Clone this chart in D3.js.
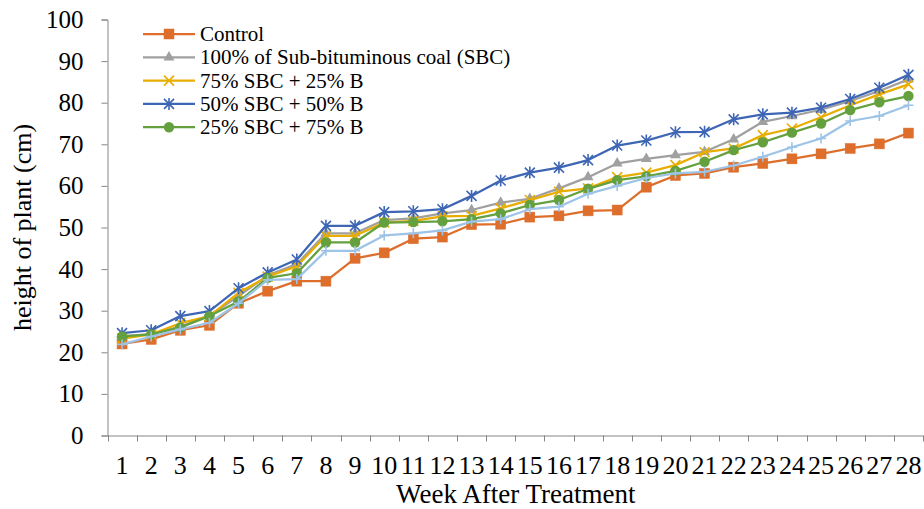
<!DOCTYPE html>
<html>
<head>
<meta charset="utf-8">
<script src="https://cdn.jsdelivr.net/npm/d3@7"></script>
<style>
  html, body { margin: 0; padding: 0; background: #fff; }
  svg { display: block; }
</style>
</head>
<body>
<svg id="chart" width="924" height="509"></svg>
<script>
// ---- Data ----
const weeks = ["1","2","3","4","5","6","7","8","9","10","11","12","13","14","15","16","17","18","19","20","21","22","23","24","25","26","27","28"];
const yTicks = [0,10,20,30,40,50,60,70,80,90,100];

const control   = [22.0,23.1,25.3,26.5,31.8,34.7,37.1,37.1,42.6,43.9,47.3,47.7,50.7,50.8,52.5,52.8,54.0,54.2,59.7,62.5,63.0,64.5,65.4,66.5,67.7,69.0,70.1,72.7];
const sbc100    = [23.8,24.4,26.2,28.8,33.5,38.5,41.2,48.6,48.6,51.8,52.2,53.4,54.2,56.0,56.9,59.4,62.1,65.4,66.5,67.4,68.2,71.2,75.4,76.8,78.3,80.4,82.8,85.6];
const sbc75b25  = [23.3,24.3,27.0,28.7,34.3,38.2,40.7,48.0,48.0,51.2,51.6,52.7,52.8,54.6,56.6,58.6,59.4,62.1,63.2,65.0,68.1,69.0,72.2,73.8,76.5,79.4,82.0,84.4];
const sbc50b50  = [24.6,25.3,28.7,29.9,35.4,39.2,42.3,50.4,50.4,53.7,53.9,54.4,57.6,61.3,63.2,64.4,66.2,69.7,70.9,72.9,73.0,76.0,77.2,77.6,78.8,80.9,83.6,86.7];
const sbc25b75  = [23.8,24.3,26.0,28.7,32.2,37.9,39.0,46.4,46.4,51.2,51.3,51.5,52.0,53.4,55.4,56.6,59.3,61.4,62.3,63.6,65.8,68.6,70.5,72.8,75.0,78.2,80.1,81.6];
const sixth     = [21.9,23.8,25.5,27.1,31.8,37.4,37.6,44.4,44.4,48.1,48.6,49.3,51.4,52.0,54.4,55.0,58.1,60.0,61.9,63.0,63.4,64.9,67.0,69.3,71.4,75.6,76.8,79.4];

const seriesNames = ["Control","100% of Sub-bituminous coal (SBC)","75% SBC + 25% B","50% SBC + 50% B","25% SBC + 75% B",""];
const seriesValues = [control, sbc100, sbc75b25, sbc50b50, sbc25b75, sixth];
const seriesColors = ["#DD6E2C","#A0A0A0","#E8AD00","#3E66B5","#64A03E","#9DC3E6"];
const seriesMarkers = ["square","triangle","x","asterisk","circle","plus"];
const legendCount = 5;

const FONT = "Liberation Serif";

// ---- Layout ----
const svg = d3.select("#chart");
const mLeft = 107.5, mRight = 923, mTop = 19.5, mBottom = 435.5;

const x = d3.scaleBand().domain(weeks).range([mLeft, mRight]).padding(0);
const y = d3.scaleLinear().domain([0,100]).range([mBottom, mTop]);
const cx = d => x(d) + x.bandwidth()/2;

const axisColor = "#868686";

// Y axis
const yAxis = d3.axisLeft(y).tickValues(yTicks).tickSize(6).tickPadding(18);
const gy = svg.append("g").attr("transform", `translate(${mLeft},0)`).call(yAxis);
gy.select(".domain").attr("stroke", axisColor).attr("stroke-width", 1);
gy.selectAll(".tick line").attr("stroke", axisColor);
gy.selectAll(".tick text").style("font-size", "25px").style("font-family", FONT).attr("fill", "#000");

// X axis: labels at band centres, ticks at band edges (category boundaries)
const xAxis = d3.axisBottom(x).tickSize(0).tickPadding(20);
const gx = svg.append("g").attr("transform", `translate(0,${mBottom})`).call(xAxis);
gx.select(".domain").attr("stroke", axisColor).attr("stroke-width", 1);
gx.selectAll(".tick text").style("font-size", "26px").style("font-family", FONT).attr("fill", "#000");
const edges = weeks.map(w => x(w)).concat([x(weeks[weeks.length-1]) + x.bandwidth()]);
gx.selectAll("line.edge").data(edges).enter().append("line")
  .attr("class","edge")
  .attr("x1", d => Math.round(d)+0.5).attr("x2", d => Math.round(d)+0.5)
  .attr("y1", 0).attr("y2", 6)
  .attr("stroke", axisColor);

// Axis titles
svg.append("text")
  .attr("x", (mLeft+mRight)/2 + 0.5).attr("y", 503)
  .attr("text-anchor","middle")
  .style("font-size", "27px").style("font-family", FONT).attr("fill","#000")
  .text("Week After Treatment");
svg.append("text")
  .attr("transform", `translate(31,${(mTop+mBottom)/2}) rotate(-90)`)
  .attr("text-anchor","middle")
  .style("font-size", "26px").style("font-family", FONT).attr("fill","#000")
  .text("height of plant (cm)");

// Marker drawing
function drawMarker(g, type, color, px, py) {
  const s = 5;
  if (type === "square") {
    g.append("rect").attr("x", px-5).attr("y", py-5).attr("width",10).attr("height",10)
      .attr("fill", color).attr("stroke", color).attr("stroke-width",0.5);
  } else if (type === "triangle") {
    g.append("path").attr("d", d3.symbol().type(d3.symbolTriangle).size(52)())
      .attr("transform", `translate(${px},${py})`).attr("fill", color);
  } else if (type === "circle") {
    g.append("circle").attr("cx", px).attr("cy", py).attr("r", 5.2).attr("fill", color);
  } else if (type === "x") {
    g.append("path").attr("d", `M${px-s},${py-s}L${px+s},${py+s}M${px-s},${py+s}L${px+s},${py-s}`)
      .attr("stroke", color).attr("stroke-width", 1.6).attr("fill","none");
  } else if (type === "asterisk") {
    g.append("path").attr("d", `M${px-s},${py-s}L${px+s},${py+s}M${px-s},${py+s}L${px+s},${py-s}M${px},${py-s-1}L${px},${py+s+1}`)
      .attr("stroke", color).attr("stroke-width", 1.6).attr("fill","none");
  } else if (type === "plus") {
    g.append("path").attr("d", `M${px-s},${py}L${px+s},${py}M${px},${py-s}L${px},${py+s}`)
      .attr("stroke", color).attr("stroke-width", 1.6).attr("fill","none");
  }
}

const line = d3.line().x((d,i) => cx(weeks[i])).y(d => y(d));

seriesValues.forEach((vals, si) => {
  const g = svg.append("g");
  g.append("path").datum(vals).attr("d", line)
    .attr("fill","none").attr("stroke", seriesColors[si]).attr("stroke-width", 2.25)
    .attr("stroke-linejoin","round");
  vals.forEach((v,i) => drawMarker(g, seriesMarkers[si], seriesColors[si], cx(weeks[i]), y(v)));
});

// Legend
const legY0 = 34, legDy = 23.3;
for (let i = 0; i < legendCount; i++) {
  const g = svg.append("g");
  const ly = legY0 + i*legDy;
  g.append("line").attr("x1",143).attr("x2",195).attr("y1",ly).attr("y2",ly)
    .attr("stroke", seriesColors[i]).attr("stroke-width", 2.25);
  drawMarker(g, seriesMarkers[i], seriesColors[i], 169, ly);
  g.append("text").attr("x", 200).attr("y", ly + 7)
    .style("font-size", "21px").style("font-family", FONT).attr("fill","#000")
    .text(seriesNames[i]);
}
</script>
</body>
</html>
